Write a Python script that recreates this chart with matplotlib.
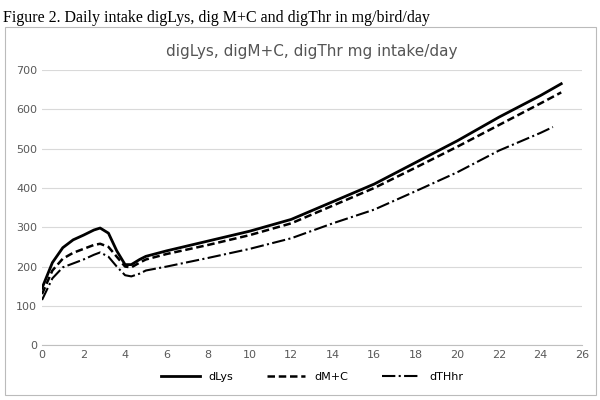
import matplotlib
matplotlib.use("Agg")
import matplotlib.pyplot as plt
from matplotlib.patches import Rectangle

x_lys = [0,0.5,1,1.5,2,2.5,2.8,3.2,3.6,4,4.3,4.7,5,6,8,10,12,14,16,18,20,22,24,25]
lys   = [145,210,248,268,280,293,298,285,240,205,205,218,226,240,265,290,320,365,410,465,520,580,635,665]
x_mc  = x_lys
mc    = [130,190,220,235,245,255,258,250,225,200,198,210,218,232,255,280,310,355,400,452,505,560,615,643]
x_thr = [0,0.5,1,1.5,2,2.5,2.8,3.2,3.6,4,4.3,4.7,5,6,8,10,12,14,16,18,20,22,24,24.6]
thr   = [115,170,198,208,218,230,236,225,200,178,175,182,190,200,222,245,272,310,345,392,440,495,540,555]

fig = plt.figure(figsize=(6,4), dpi=100)
fig.text(0.005,0.975,"Figure 2. Daily intake digLys, dig M+C and digThr in mg/bird/day",
         family="Liberation Serif", fontsize=11.5, va="top")
fig.patches.append(Rectangle((0.008,0.012),0.985,0.92,transform=fig.transFigure,
                             fill=False,edgecolor="#bbbbbb",lw=0.8))
ax = fig.add_axes([0.07,0.137,0.9,0.688])
ax.set_title("digLys, digM+C, digThr mg intake/day", fontsize=11, color="#555555", pad=10)
ax.plot(x_lys,lys,color="black",lw=2,label="dLys")
ax.plot(x_mc,mc,color="black",lw=1.8,ls=(0,(3,1.5)),label="dM+C")
ax.plot(x_thr,thr,color="black",lw=1.5,ls="-.",label="dTHhr")
ax.set_xlim(0,26); ax.set_ylim(0,700)
ax.set_xticks(range(0,27,2)); ax.set_yticks(range(0,701,100))
ax.grid(axis="y",color="#d9d9d9",lw=0.8)
for s in ["top","right","left"]: ax.spines[s].set_visible(False)
ax.spines["bottom"].set_color("#bfbfbf")
ax.tick_params(length=0,labelsize=8,colors="#595959")
ax.legend(loc="upper center",bbox_to_anchor=(0.5,-0.06),ncol=3,frameon=False,
          fontsize=8,handlelength=3.5,columnspacing=3)
fig.savefig("out.png")
